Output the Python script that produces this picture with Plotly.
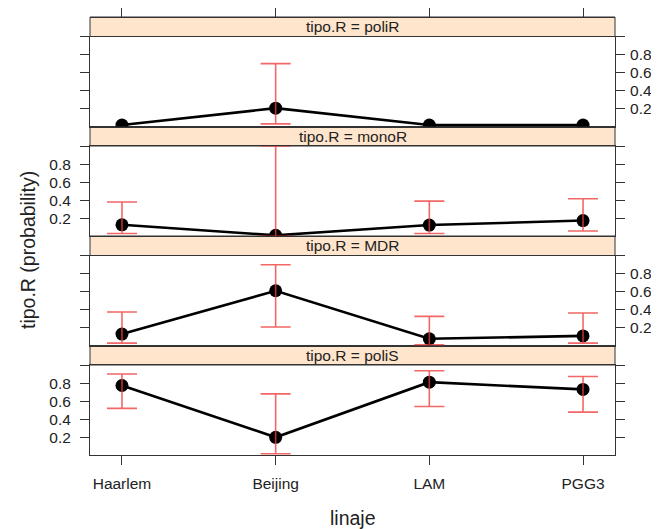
import plotly.graph_objects as go

# ---------------- data ----------------
categories = ["Haarlem", "Beijing", "LAM", "PGG3"]
panels = ["poliR", "monoR", "MDR", "poliS"]

prob_poliR = [0.02, 0.207, 0.02, 0.02]
lower_poliR = [None, 0.033, None, None]
upper_poliR = [None, 0.70, None, None]

prob_monoR = [0.128, 0.012, 0.125, 0.175]
lower_monoR = [0.031, 0.0, 0.031, 0.06]
upper_monoR = [0.38, 1.0, 0.39, 0.417]

prob_MDR = [0.13, 0.61, 0.078, 0.11]
lower_MDR = [0.03, 0.208, 0.011, 0.03]
upper_MDR = [0.374, 0.897, 0.326, 0.363]

prob_poliS = [0.773, 0.20, 0.81, 0.73]
lower_poliS = [0.52, 0.018, 0.54, 0.478]
upper_poliS = [0.90, 0.68, 0.937, 0.873]

y_tickvals = [0.2, 0.4, 0.6, 0.8, 1.0]
y_ticktext = ["0.2", "0.4", "0.6", "0.8", ""]

series = {
    "poliR": (prob_poliR, lower_poliR, upper_poliR),
    "monoR": (prob_monoR, lower_monoR, upper_monoR),
    "MDR": (prob_MDR, lower_MDR, upper_MDR),
    "poliS": (prob_poliS, lower_poliS, upper_poliS),
}

# ---------------- layout constants ----------------
OFF = 8  # page body margin
W, H = 659 - OFF, 529 - OFF
L, R, T, B = 90 - OFF, 44, 17 - OFF, 74
plot_h = H - T - B
strip_h = 19.5
panel_h = 90.0
FONT = "Liberation Sans, Arial, sans-serif"
TXT = "#222222"
AX = "#333333"
ERR = "rgba(240,60,60,0.78)"


def paper(ypix):
    # ypix in figure pixels (from figure top)
    return (H - B - ypix) / plot_h


fig = go.Figure()
layout = dict(
    width=W, height=H,
    margin=dict(l=L, r=R, t=T, b=B, autoexpand=False),
    paper_bgcolor="white", plot_bgcolor="white",
    showlegend=False,
    font=dict(family=FONT, size=15.5, color=TXT),
)
shapes = []
annotations = []

for b, name in enumerate(panels):
    idx = b + 1
    xa = "x" if idx == 1 else f"x{idx}"
    ya = "y" if idx == 1 else f"y{idx}"
    probs, lo, up = series[name]

    strip_top = T + (strip_h + panel_h) * b
    panel_top = strip_top + strip_h
    panel_bot = panel_top + panel_h

    # line + points
    fig.add_trace(go.Scatter(
        x=categories, y=probs, mode="lines+markers",
        line=dict(color="black", width=2.6),
        marker=dict(color="black", size=13),
        xaxis=xa, yaxis=ya, hoverinfo="skip",
    ))
    # confidence intervals (drawn above)
    ex, ey, eplus, eminus = [], [], [], []
    for c, p, l_, u_ in zip(categories, probs, lo, up):
        if l_ is None or u_ is None:
            continue
        ex.append(c)
        ey.append(p)
        eplus.append(u_ - p)
        eminus.append(p - l_)
    fig.add_trace(go.Scatter(
        x=ex, y=ey, mode="markers",
        marker=dict(color="rgba(0,0,0,0)", size=1),
        error_y=dict(type="data", symmetric=False, array=eplus, arrayminus=eminus,
                     color=ERR, thickness=1.6, width=15),
        xaxis=xa, yaxis=ya, hoverinfo="skip",
    ))

    is_bottom = (b == len(panels) - 1)
    layout["xaxis" if idx == 1 else f"xaxis{idx}"] = dict(
        domain=[0, 1], anchor=ya, type="category",
        categoryorder="array", categoryarray=categories,
        range=[-0.208, 3.208],
        showline=True, linecolor=AX, linewidth=1, mirror=True,
        ticks="outside" if is_bottom else "", ticklen=9, tickcolor=AX,
        showticklabels=is_bottom, showgrid=False, zeroline=False,
        ticklabelstandoff=5,
        tickfont=dict(family=FONT, size=15.5, color=TXT),
    )
    layout["yaxis" if idx == 1 else f"yaxis{idx}"] = dict(
        domain=[paper(panel_bot), paper(panel_top)], anchor=xa,
        range=[0.004, 1.0],
        side="right" if b % 2 == 0 else "left",
        tickvals=y_tickvals, ticktext=y_ticktext,
        showline=True, linecolor=AX, linewidth=1, mirror="ticks",
        ticks="outside", ticklen=9, tickcolor=AX,
        showgrid=False, zeroline=False,
        ticklabelstandoff=2 if b % 2 == 0 else 6,
        tickfont=dict(family=FONT, size=15.5, color=TXT),
    )

    shapes.append(dict(
        type="rect", xref="paper", yref="paper",
        x0=0, x1=1, y0=paper(panel_top), y1=paper(strip_top),
        fillcolor="#FFE5CC", line=dict(color=AX, width=1), layer="below",
    ))
    annotations.append(dict(
        text=f"tipo.R = {name}", xref="paper", yref="paper",
        x=0.5, y=paper((strip_top + panel_top) / 2),
        xanchor="center", yanchor="middle", showarrow=False,
        font=dict(family=FONT, size=15.5, color=TXT),
    ))

# top axis ticks above the first strip
fig.add_trace(go.Scatter(
    x=categories, y=[None] * len(categories), mode="markers",
    xaxis="x5", yaxis="y", hoverinfo="skip", showlegend=False,
))
layout["xaxis5"] = dict(
    domain=[0, 1], anchor="free", position=1.0, overlaying="x", side="top",
    type="category", categoryorder="array", categoryarray=categories,
    range=[-0.208, 3.208], showline=True, linecolor=AX, linewidth=1,
    ticks="outside", ticklen=9, tickcolor=AX, showticklabels=False,
    showgrid=False, zeroline=False,
)

annotations.append(dict(
    text="linaje", xref="paper", yref="paper", x=0.5, y=paper(518 - OFF),
    xanchor="center", yanchor="middle", showarrow=False,
    font=dict(family=FONT, size=19.5, color=TXT),
))
annotations.append(dict(
    text="tipo.R (probability)", xref="paper", yref="paper",
    x=(28 - 90) / (W - L - R), y=paper(250 - OFF), textangle=-90,
    xanchor="center", yanchor="middle", showarrow=False,
    font=dict(family=FONT, size=19.5, color=TXT),
))

layout["shapes"] = shapes
layout["annotations"] = annotations
fig.update_layout(**layout)
fig.write_html(
    "out.html",
    post_script="document.documentElement.style.overflow='hidden';"
                "document.body.style.overflow='hidden';",
)
